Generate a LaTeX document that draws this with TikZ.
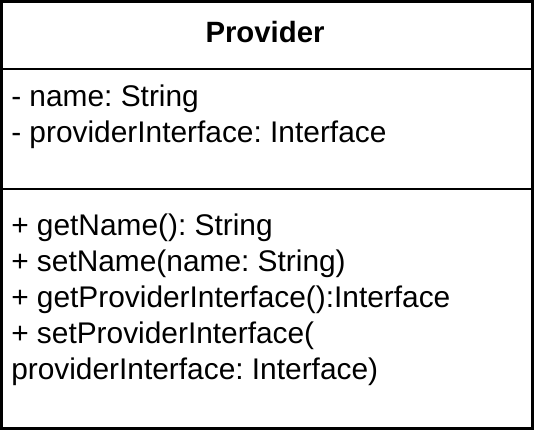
\documentclass[tikz,border=0pt]{standalone}
\usepackage{fontspec}
\setmainfont{Liberation Sans}
\frenchspacing
\begin{document}
\begin{tikzpicture}[x=0.75pt,y=-0.75pt,
  boxline/.style={line width=2pt, draw=black},
  member/.style={font=\fontsize{22.4pt}{27pt}\selectfont, inner sep=0pt, anchor=base west},
  classname/.style={font=\fontsize{22pt}{27pt}\selectfont\bfseries, inner sep=0pt, anchor=base}]
\useasboundingbox (0,0) rectangle (534,430);
\draw[boxline] (1.3,1.3) rectangle (532.5,428.5);
\draw[boxline] (1.3,69) -- (532.5,69);
\draw[boxline] (1.3,189) -- (532.5,189);
\node[classname] (title) at (265,42) {Provider};
\node[member] (a1) at (11,106) {- name: String};
\node[member] (a2) at (11,142) {- providerInterface: Interface};
\node[member] (m1) at (11,235) {+ getName(): String};
\node[member] (m2) at (11,271) {+ setName(name: String)};
\node[member] (m3) at (11,307) {+ getProviderInterface():Interface};
\node[member] (m4) at (11,343) {+ setProviderInterface(};
\node[member] (m5) at (11,379) {providerInterface: Interface)};
\end{tikzpicture}
\end{document}
